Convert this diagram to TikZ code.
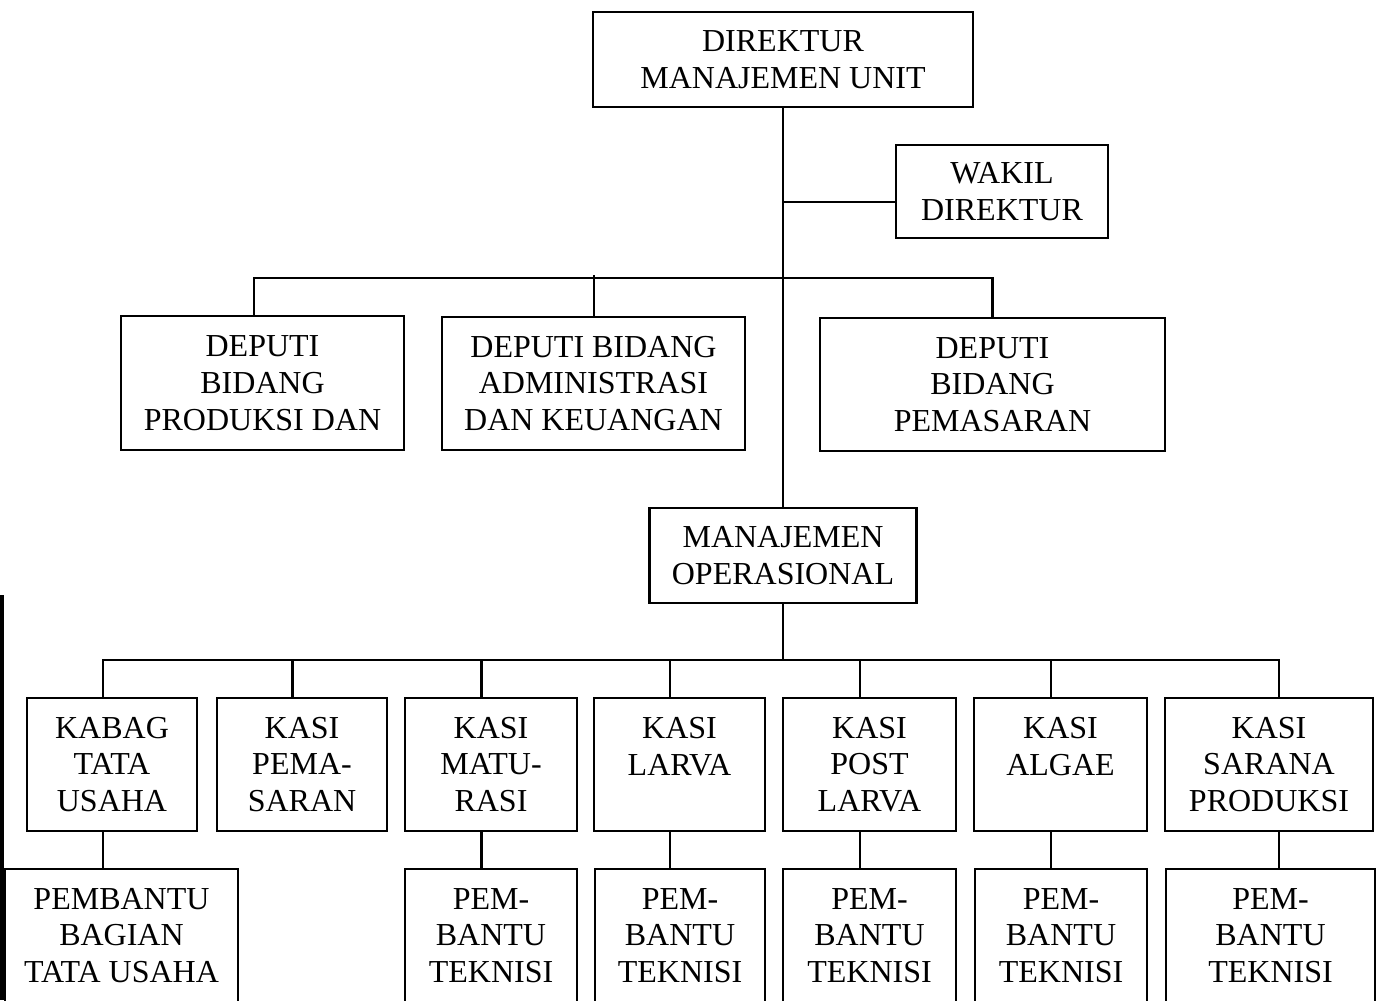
\documentclass[tikz,border=0pt]{standalone}
\usepackage{fontspec}
\setmainfont{Liberation Serif}
\usetikzlibrary{calc}
\tikzset{
  bx/.style 2 args={draw, line width=1.9pt, inner sep=0pt, align=center,
    minimum width=#1*0.75pt, minimum height=#2*0.75pt,
    font=\fontsize{24}{27.6}\selectfont},
  conn/.style={line width=1.8pt}
}
\begin{document}
\begin{tikzpicture}[x=0.75pt,y=-0.75pt]
\useasboundingbox (0,0) rectangle (1382,1000);
\clip (0,0) rectangle (1382,1000);
% level 1
\node[bx={380}{95}] (dir) at (783,59.5) {DIREKTUR\\MANAJEMEN UNIT};
\node[bx={212}{93}] (wakil) at (1002,191.5) {WAKIL\\DIREKTUR};
% deputies
\node[bx={283}{134}] (dep1) at (262.5,383) {DEPUTI\\BIDANG\\PRODUKSI DAN};
\node[bx={303}{133}] (dep2) at (593.5,383.5) {DEPUTI BIDANG\\ADMINISTRASI\\DAN KEUANGAN};
\node[bx={345}{133}] (dep3) at (992.5,384.5) {DEPUTI\\BIDANG\\PEMASARAN};
% operational
\node[bx={267}{95}] (mo) at (783,555.5) {MANAJEMEN\\OPERASIONAL};
% row 2
\node[bx={170}{133}] (kabag) at (112,764.5) {KABAG\\TATA\\USAHA};
\node[bx={170}{133}] (pema) at (302,764.5) {KASI\\PEMA-\\SARAN};
\node[bx={172}{133}] (mat) at (491,764.5) {KASI\\MATU-\\RASI};
\node[bx={171}{133}] (larva) at (679.5,764.5) {KASI\\LARVA\\\vphantom{A}};
\node[bx={173}{133}] (post) at (869.5,764.5) {KASI\\POST\\LARVA};
\node[bx={173}{133}] (algae) at (1060.5,764.5) {KASI\\ALGAE\\\vphantom{A}};
\node[bx={208}{133}] (sarana) at (1269,764.5) {KASI\\SARANA\\PRODUKSI};
% row 3
\node[bx={233}{133}] (pbag) at (121.5,935.5) {PEMBANTU\\BAGIAN\\TATA USAHA};
\node[bx={172}{133}] (pt1) at (491,935.5) {PEM-\\BANTU\\TEKNISI};
\node[bx={170}{133}] (pt2) at (680,935.5) {PEM-\\BANTU\\TEKNISI};
\node[bx={173}{133}] (pt3) at (869.5,935.5) {PEM-\\BANTU\\TEKNISI};
\node[bx={172}{133}] (pt4) at (1061,935.5) {PEM-\\BANTU\\TEKNISI};
\node[bx={209}{133}] (pt5) at (1270.5,935.5) {PEM-\\BANTU\\TEKNISI};
% junctions
\coordinate (jw) at (783,202);
\coordinate (jd) at (783,278);
\coordinate (jm) at (783,660);
% trunk
\draw[conn] (dir.south) -- (mo.north);
\draw[conn] (jw) -- (jw -| wakil.west);
% deputies bus
\draw[conn] ([xshift=-6.4pt]dep1.north) |- (jd);
\draw[conn] ([xshift=0.4pt]dep2.north) -- ++(0,41*0.75pt);
\draw[conn] (jd) -| (dep3.north);
% operational bus
\draw[conn] (mo.south) -- (jm);
\draw[conn] ([xshift=-6.75pt]kabag.north) |- (jm);
\draw[conn] (jm) -| ([xshift=7.5pt]sarana.north);
\foreach \n in {pema,mat,larva,post,algae}{
  \draw[conn] ([xshift=-7pt]\n.north) -- ++(0,38*0.75pt);
}
% row 3 connectors
\draw[conn] ([xshift=-6.75pt]kabag.south) coordinate (k1) -- (k1 |- pbag.north);
\draw[conn] ([xshift=-7pt]mat.south) coordinate (k2) -- (k2 |- pt1.north);
\draw[conn] ([xshift=-7pt]larva.south) coordinate (k3) -- (k3 |- pt2.north);
\draw[conn] ([xshift=-7pt]post.south) coordinate (k4) -- (k4 |- pt3.north);
\draw[conn] ([xshift=-7pt]algae.south) coordinate (k5) -- (k5 |- pt4.north);
\draw[conn] ([xshift=7.5pt]sarana.south) coordinate (k6) -- (k6 |- pt5.north);
% scan edge line at left
\draw[line width=2.6pt] (2,595) -- (2,1000);
\end{tikzpicture}
\end{document}
